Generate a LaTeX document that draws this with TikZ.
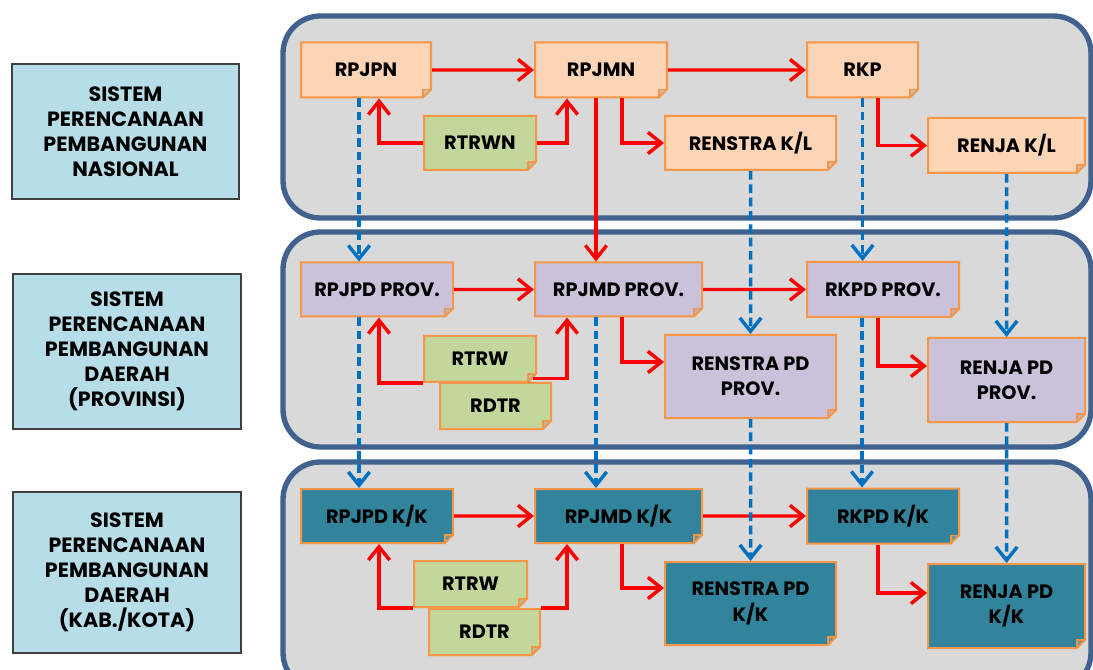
\documentclass[tikz,border=0pt]{standalone}
\usepackage{fontspec}
\setmainfont{Poppins}
\usetikzlibrary{arrows.meta,calc,shapes.misc}

\definecolor{panelfill}{HTML}{D9D9D9}
\definecolor{panelline}{HTML}{41628F}
\definecolor{labelfill}{HTML}{B7DEE8}
\definecolor{labelline}{HTML}{404040}
\definecolor{boxline}{HTML}{F79646}
\definecolor{peach}{HTML}{FBD5B5}
\definecolor{sage}{HTML}{C3D69B}
\definecolor{lilac}{HTML}{CCC1DA}
\definecolor{tealbox}{HTML}{31849B}
\definecolor{linkred}{HTML}{FF0000}
\definecolor{linkblue}{HTML}{0070C0}

\tikzset{
	dims/.style 2 args = {
		minimum width = #1*0.75pt,
		minimum height = #2*0.75pt,
	},
	panel/.style = {
		draw = panelline,
		fill = panelfill,
		line width = 4pt,
		rounded corners = 28pt,
	},
	level/.style = {
		draw = labelline,
		fill = labelfill,
		line width = 0.9pt,
		inner sep = 0pt,
		align = center,
		font = \bfseries\fontsize{15.5}{18.75}\selectfont,
	},
	doc/.style = {
		chamfered rectangle,
		chamfered rectangle corners = south east,
		chamfered rectangle xsep = 3pt,
		chamfered rectangle ysep = 3pt,
		draw = boxline,
		line width = 1.5pt,
		inner sep = 0pt,
		align = center,
		font = \bfseries\fontsize{14.5}{19}\selectfont,
		path picture = {
			\filldraw[fill = black!35, fill opacity = .5, draw = boxline, line width = .8pt]
				(path picture bounding box.south east) ++(-6pt,0) -- ++(0,6pt) -- ++(6pt,0);
		},
	},
	nat/.style = {doc, fill = peach},
	spatial/.style = {doc, fill = sage},
	prov/.style = {doc, fill = lilac},
	kk/.style = {doc, fill = tealbox},
	link/.style = {
		draw = linkred,
		line width = 2.6pt,
		-{Straight Barb[length = 10pt, width = 16pt]},
	},
	feed/.style = {
		draw = linkblue,
		line width = 2.6pt,
		dash pattern = on 6.5pt off 3.5pt,
		-{Straight Barb[length = 10pt, width = 16pt]},
	},
}

\begin{document}
\begin{tikzpicture}[x = 0.75pt, y = -0.75pt]

	\useasboundingbox (0,0) rectangle (1093,670);
	\clip (0,0) rectangle (1093,670);

	% levels on the left
	\node[level, dims = {227}{135}] (nasional) at (125.5,131.5)
		{SISTEM\\PERENCANAAN\\PEMBANGUNAN\\NASIONAL};
	\node[level, dims = {228}{155}] (provinsi) at (127,351.5)
		{SISTEM\\PERENCANAAN\\PEMBANGUNAN\\DAERAH\\(PROVINSI)};
	\node[level, dims = {228}{161}] (kabkota) at (127,572.5)
		{SISTEM\\PERENCANAAN\\PEMBANGUNAN\\DAERAH\\(KAB./KOTA)};

	% panels
	\draw[panel] (283,16) rectangle (1091,218);
	\draw[panel] (283,232) rectangle (1091,447);
	\draw[panel] (283,462) rectangle (1091,690);

	% nasional
	\node[nat, dims = {130}{55}] (rpjpn) at (366,70) {RPJPN};
	\node[nat, dims = {132}{55}] (rpjmn) at (601,70) {RPJMN};
	\node[nat, dims = {111}{55}] (rkp) at (862.5,70) {RKP};
	\node[spatial, dims = {112}{54}] (rtrwn) at (480,143) {RTRWN};
	\node[nat, dims = {171}{54}] (renstrakl) at (750.5,143) {RENSTRA K/L};
	\node[nat, dims = {157}{55}] (renjakl) at (1006.5,145.5) {RENJA K/L};

	% provinsi
	\node[prov, dims = {152}{54}] (rpjpdprov) at (377,289.5) {RPJPD PROV.};
	\node[prov, dims = {167}{54}] (rpjmdprov) at (618.5,289.5) {RPJMD PROV.};
	\node[prov, dims = {152}{55}] (rkpdprov) at (883,289.5) {RKPD PROV.};
	\node[spatial, dims = {112}{46}] (rtrwprov) at (480,359) {RTRW};
	\node[spatial, dims = {111}{46}] (rdtrprov) at (495.5,406) {RDTR};
	\node[prov, dims = {171}{83}] (renstraprov) at (750.5,376.5) {RENSTRA PD\\PROV.};
	\node[prov, dims = {157}{84}] (renjaprov) at (1006.5,380) {RENJA PD\\PROV.};

	% kabupaten / kota
	\node[kk, dims = {152}{54}] (rpjpdkk) at (377,516) {RPJPD K/K};
	\node[kk, dims = {167}{54}] (rpjmdkk) at (618.5,516) {RPJMD K/K};
	\node[kk, dims = {152}{55}] (rkpdkk) at (883,516) {RKPD K/K};
	\node[spatial, dims = {113}{46}] (rtrwkk) at (470.5,584) {RTRW};
	\node[spatial, dims = {111}{46}] (rdtrkk) at (484.5,632) {RDTR};
	\node[kk, dims = {171}{83}] (renstrakk) at (750.5,603.5) {RENSTRA PD\\K/K};
	\node[kk, dims = {157}{84}] (renjakk) at (1006.5,606) {RENJA PD\\K/K};

	% red links
	\draw[link] (rpjpn) -- (rpjmn);
	\draw[link] (rpjmn) -- (rkp);
	\draw[link] (rtrwn.west) -| ($(rpjpn.south)+(13,0)$);
	\draw[link] (rtrwn.east) -| ($(rpjmn.south)+(-34,0)$);
	\draw[link] ($(rpjmn.south)+(21,0)$) |- (renstrakl.west);
	\draw[link] ($(rkp.south)+(15.5,0)$) |- (renjakl.west);
	\draw[link] ($(rpjmn.south)+(-5,0)$) coordinate (a) -- (a |- rpjmdprov.north);

	\draw[link] (rpjpdprov) -- (rpjmdprov);
	\draw[link] (rpjmdprov) -- (rkpdprov);
	\draw[link] (rtrwprov.south west) -| ($(rpjpdprov.south)+(2,0)$);
	\draw[link] (rtrwprov.south east) -| ($(rpjmdprov.south)+(-51.5,0)$);
	\draw[link] ($(rpjmdprov.south)+(3.5,0)$) |- ($(renstraprov.west)+(0,-14.5)$);
	\draw[link] ($(rkpdprov.south)+(-5,0)$) |- ($(renjaprov.west)+(0,-14)$);

	\draw[link] (rpjpdkk) -- (rpjmdkk);
	\draw[link] (rpjmdkk) -- (rkpdkk);
	\draw[link] (rtrwkk.south west) -| ($(rpjpdkk.south)+(2,0)$);
	\draw[link] (rdtrkk.north east) -| ($(rpjmdkk.south)+(-51.5,0)$);
	\draw[link] ($(rpjmdkk.south)+(3.5,0)$) |- ($(renstrakk.west)+(0,-15.5)$);
	\draw[link] ($(rkpdkk.south)+(-5,0)$) |- ($(renjakk.west)+(0,-13)$);

	% blue dashed links
	\draw[feed] ($(rpjpn.south)+(-7,0)$) coordinate (a) -- (a |- rpjpdprov.north);
	\draw[feed] ($(rpjpdprov.south)+(-18,0)$) coordinate (a) -- (a |- rpjpdkk.north);
	\draw[feed] ($(rpjmdprov.south)+(-22.5,0)$) coordinate (a) -- (a |- rpjmdkk.north);
	\draw[feed] (renstrakl) -- (renstraprov);
	\draw[feed] (renstraprov) -- (renstrakk);
	\draw[feed] (rkp.south) -- (rkp.south |- rkpdprov.north);
	\draw[feed] ($(rkpdprov.south)+(-21,0)$) coordinate (a) -- (a |- rkpdkk.north);
	\draw[feed] (renjakl) -- (renjaprov);
	\draw[feed] (renjaprov) -- (renjakk);

\end{tikzpicture}
\end{document}
